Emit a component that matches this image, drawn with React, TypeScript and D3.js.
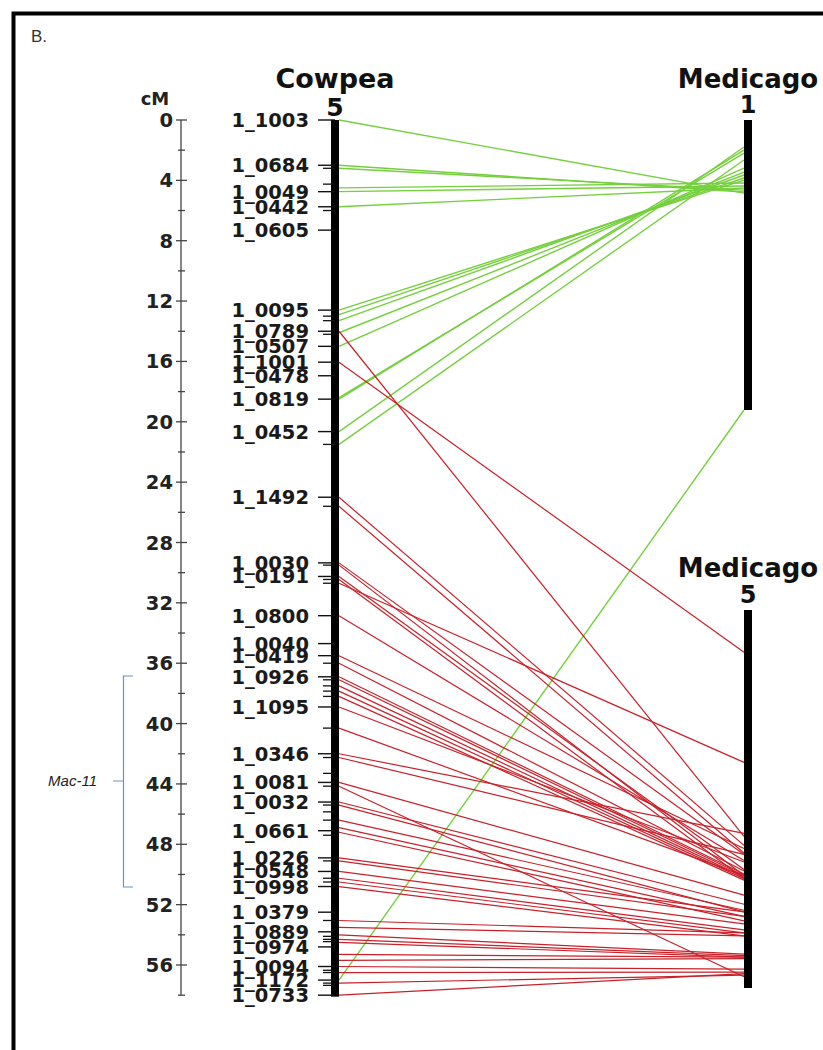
import React from "react";
import * as d3 from "d3";

// ---------- data ----------
const axisMajorTicks = [0, 4, 8, 12, 16, 20, 24, 28, 32, 36, 40, 44, 48, 52, 56];
const axisMinorTicks = [2, 6, 10, 14, 18, 22, 26, 30, 34, 38, 42, 46, 50, 54, 58];

const markerNames = [
  "1_1003", "1_0684", "1_0049", "1_0442", "1_0605", "1_0095", "1_0789", "1_0507",
  "1_1001", "1_0478", "1_0819", "1_0452", "1_1492", "1_0030", "1_0191", "1_0800",
  "1_0040", "1_0419", "1_0926", "1_1095", "1_0346", "1_0081", "1_0032", "1_0661",
  "1_0226", "1_0548", "1_0998", "1_0379", "1_0889", "1_0974", "1_0094", "1_1172", "1_0733",
];
const markerPositions = [
  0.0, 3.0, 4.75, 5.75, 7.3, 12.6, 14.0, 15.0,
  16.05, 16.95, 18.5, 20.65, 25.0, 29.35, 30.25, 32.85,
  34.7, 35.5, 36.9, 38.9, 42.0, 43.9, 45.2, 47.1,
  48.9, 49.8, 50.8, 52.5, 53.8, 54.8, 56.1, 57.0, 58.0,
];
const unlabeledPositions = [
  3.2, 4.25, 6.0, 13.0, 13.3, 14.2, 21.5, 25.6, 29.5, 30.45, 30.7, 36.0, 37.1, 37.5,
  37.85, 38.2, 40.3, 42.25, 43.3, 44.15, 45.4, 45.85, 46.4, 47.4, 49.1, 50.25, 50.5,
  53.05, 54.1, 54.3, 54.45, 56.35, 56.5, 57.2, 57.35,
];

// green: cowpea 5 -> Medicago 1
const greenFrom = [0.0, 3.0, 3.2, 4.5, 4.75, 5.75, 12.6, 12.9, 13.3, 14.1, 15.0, 18.4, 18.5, 20.65, 21.5, 57.0];
const greenTo = [4.84, 4.77, 4.64, 4.17, 4.37, 4.5, 3.98, 3.84, 3.64, 3.45, 3.18, 2.19, 1.99, 1.79, 2.65, 19.2];

// red: cowpea 5 -> Medicago 5
const redFrom = [
  14.0, 16.05, 25.0, 25.6, 29.35, 29.5, 30.25, 30.45, 30.7, 32.85, 35.5, 36.0, 36.9, 37.1,
  37.5, 37.85, 38.2, 38.9, 40.3, 42.0, 42.25, 43.9, 44.15, 45.2, 45.4, 46.4, 46.9, 47.2,
  48.9, 49.1, 49.8, 50.25, 50.5, 50.8, 53.05, 53.5, 54.0, 54.3, 54.5, 55.3, 55.7, 56.1,
  56.5, 57.2, 58.0,
];
const redTo = [
  15.0, 2.8, 15.6, 16.1, 16.2, 17.6, 17.2, 17.8, 10.1, 16.6, 15.8, 17.3, 17.5, 17.6,
  17.7, 17.8, 17.9, 16.7, 17.6, 14.8, 16.2, 18.9, 24.3, 19.5, 20.0, 19.9, 20.3, 20.6,
  20.0, 20.3, 20.8, 21.2, 21.4, 21.6, 21.4, 21.6, 22.8, 22.9, 23.0, 23.0, 23.1, 23.8,
  24.0, 24.2, 24.1,
];

const med1Length = 19.2;
const med5Length = 25.05;
const cowpeaLength = 58.1;

// ---------- layout ----------
const W = 823;
const H = 1050;
const cowX = 335;
const medX = 748;
const barW = 8;
const axisX = 181;
const FONT = "'DejaVu Sans', Verdana, sans-serif";
const GREEN = "#74d03c";
const RED = "#c9212a";

const yCow = d3.scaleLinear().domain([0, 56]).range([120, 965]);
const yMed1 = d3.scaleLinear().domain([0, med1Length]).range([120, 410]);
const yMed5 = d3.scaleLinear().domain([0, med5Length]).range([610, 988]);

export default function App() {
  const lineGen = d3.line<[number, number]>();
  const x1 = cowX + barW / 2;
  const x2 = medX - barW / 2;
  return (
    <svg width={W} height={H} style={{ position: "absolute", left: 0, top: 0, background: "#fff" }}>
      <rect x={0} y={0} width={W} height={H} fill="#fff" />
      <rect x={13.5} y={13.5} width={W + 20} height={H + 20} fill="none" stroke="#000" strokeWidth={4} />
      <text x={31} y={42} fontFamily="'Liberation Sans', Arial, sans-serif" fontSize={17} fill="#333">B.</text>

      {/* cM axis */}
      <text x={155} y={105} textAnchor="middle" fontFamily={FONT} fontWeight="bold" fontSize={18} fill="#222">cM</text>
      <line x1={axisX} x2={axisX} y1={yCow(0)} y2={yCow(58)} stroke="#444" strokeWidth={1.3} />
      {axisMajorTicks.map((t) => (
        <g key={"M" + t}>
          <line x1={axisX - 5} x2={axisX + 6} y1={yCow(t)} y2={yCow(t)} stroke="#444" strokeWidth={1.3} />
          <text x={173} y={yCow(t) + 7} textAnchor="end" fontFamily={FONT} fontWeight="bold" fontSize={19.5} fill="#222">{t}</text>
        </g>
      ))}
      {axisMinorTicks.map((t) => (
        <line key={"m" + t} x1={axisX - 3} x2={axisX + 4} y1={yCow(t)} y2={yCow(t)} stroke="#444" strokeWidth={1.3} />
      ))}

      {/* Mac-11 bracket */}
      <path d={`M133,676 H123.5 V887 H133 M123.5,781 H113`} fill="none" stroke="#6f8fc4" strokeWidth={1.2} />
      <text x={97} y={786} textAnchor="end" fontFamily="'Liberation Sans', Arial, sans-serif" fontStyle="italic" fontSize={15} fill="#222">Mac-11</text>

      {/* links */}
      {greenFrom.map((c, i) => (
        <path key={"g" + i} d={lineGen([[x1, yCow(c)], [x2, yMed1(greenTo[i])]]) || ""} stroke={GREEN} strokeWidth={1.4} fill="none" />
      ))}
      {redFrom.map((c, i) => (
        <path key={"r" + i} d={lineGen([[x1, yCow(c)], [x2, yMed5(redTo[i])]]) || ""} stroke={RED} strokeWidth={1.2} fill="none" />
      ))}

      {/* cowpea chromosome */}
      <text x={cowX} y={88} textAnchor="middle" fontFamily={FONT} fontWeight="bold" fontSize={27} fill="#111">Cowpea</text>
      <text x={cowX} y={116} textAnchor="middle" fontFamily={FONT} fontWeight="bold" fontSize={25} fill="#111">5</text>
      <rect x={cowX - barW / 2} y={yCow(0)} width={barW} height={yCow(cowpeaLength) - yCow(0)} fill="#000" />
      {unlabeledPositions.map((p, i) => (
        <line key={"u" + i} x1={cowX - 12} x2={cowX} y1={yCow(p)} y2={yCow(p)} stroke="#111" strokeWidth={1.3} />
      ))}
      {markerPositions.map((p, i) => (
        <g key={"k" + i}>
          <line x1={cowX - 17} x2={cowX} y1={yCow(p)} y2={yCow(p)} stroke="#111" strokeWidth={1.4} />
          <text x={309} y={yCow(p) + 7} textAnchor="end" fontFamily={FONT} fontWeight="bold" fontSize={19.5} fill="#1a1a1a">{markerNames[i]}</text>
        </g>
      ))}

      {/* Medicago 1 */}
      <text x={medX} y={88} textAnchor="middle" fontFamily={FONT} fontWeight="bold" fontSize={26} fill="#111">Medicago</text>
      <text x={medX} y={113} textAnchor="middle" fontFamily={FONT} fontWeight="bold" fontSize={24} fill="#111">1</text>
      <rect x={medX - barW / 2} y={yMed1(0)} width={barW} height={yMed1(med1Length) - yMed1(0)} fill="#000" />

      {/* Medicago 5 */}
      <text x={medX} y={577} textAnchor="middle" fontFamily={FONT} fontWeight="bold" fontSize={26} fill="#111">Medicago</text>
      <text x={medX} y={603} textAnchor="middle" fontFamily={FONT} fontWeight="bold" fontSize={24} fill="#111">5</text>
      <rect x={medX - barW / 2} y={yMed5(0)} width={barW} height={yMed5(med5Length) - yMed5(0)} fill="#000" />
    </svg>
  );
}
